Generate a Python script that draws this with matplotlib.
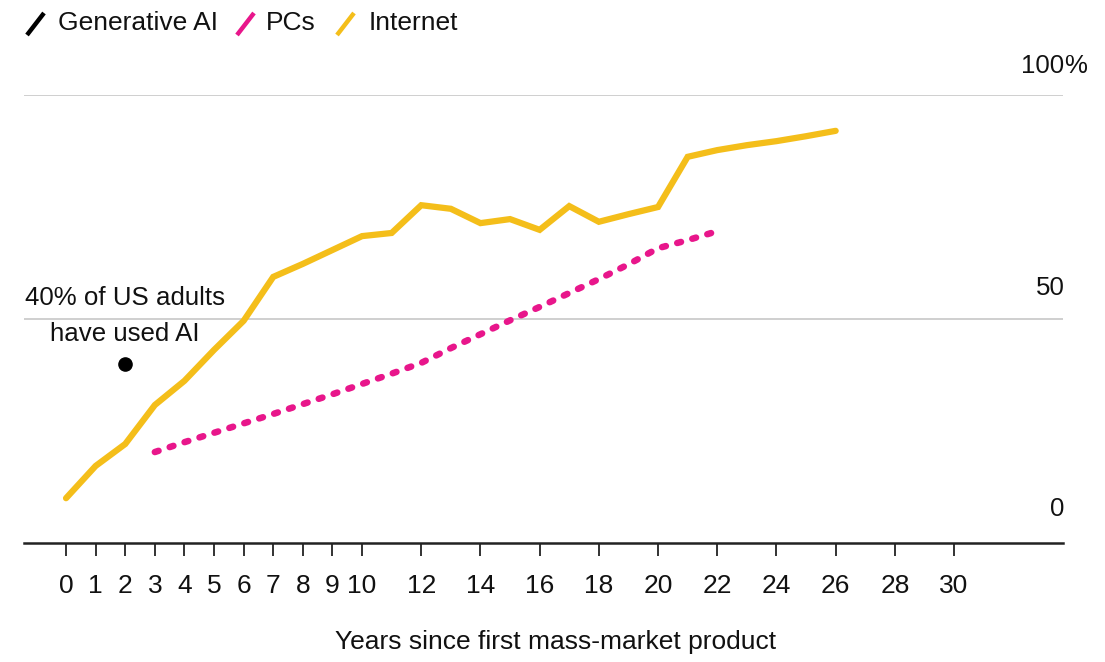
import matplotlib
matplotlib.use("Agg")
import matplotlib.pyplot as plt
from matplotlib.lines import Line2D

plt.rcParams['font.family'] = ['Liberation Sans', 'DejaVu Sans']

# Share of US adults using each technology, by years since first mass-market product
internet_years = list(range(0, 27))
internet_share = [10.0, 17.2, 22.1, 30.8, 36.2, 43.1, 49.6, 59.4, 62.3, 65.4, 68.5,
                  69.2, 75.4, 74.6, 71.4, 72.3, 69.9, 75.2, 71.7, 73.4, 75.0,
                  86.2, 87.7, 88.8, 89.7, 90.8, 92.0]

pc_years = list(range(3, 23))
pc_share = [20.3, 22.5, 24.6, 26.7, 28.8, 31.0, 33.2, 35.5, 37.8, 40.2,
            43.5, 46.6, 49.7, 52.7, 55.8, 58.9, 62.2, 65.8, 67.6, 69.6]

ai_year = [2]
ai_share = [40]

x_ticks = list(range(0, 11)) + list(range(12, 31, 2))
y_levels = [0, 50, 100]
y_numbers = ["0", "50", "100"]

legend_names = ["Generative AI", "PCs", "Internet"]
colors = ["#000000", "#E8168B", "#F4BE1A"]

W, H = 1105, 662
fig = plt.figure(figsize=(W / 100, H / 100), dpi=100)
ax = fig.add_axes([24 / W, 119 / H, (1063 - 24) / W, (543 - 95) / H])

ax.set_xlim(-1.42, 33.68)
ax.set_ylim(0, 100)

for g in y_levels[1:]:
    ax.axhline(g, color="#cfcfcf", lw=1.4, zorder=0)

ax.plot(internet_years, internet_share, color=colors[2], lw=4.5,
        solid_joinstyle="miter", solid_capstyle="round", zorder=3)
ax.plot(pc_years, pc_share, color=colors[1], lw=4.7, dashes=(0.6, 1.8),
        dash_capstyle="round", zorder=3)
ax.plot(ai_year, ai_share, "o", color=colors[0], ms=9.5, zorder=4)

ax.text(ai_year[0], 50.7, "40% of US adults\nhave used AI", ha="center", va="center",
        fontsize=18.6, linespacing=1.6, color="#111111")

# right-hand value labels, the percent sign hangs past the axis end
ytrans = ax.get_yaxis_transform()
label_offsets = [7.6, 7.0, 6.5]
for g, lab, off in zip(y_levels, y_numbers, label_offsets):
    ax.text(1.0015, g + off, lab, transform=ytrans, ha="right", va="center",
            fontsize=18.6, color="#111111")
ax.text(1.0015, y_levels[-1] + label_offsets[-1], "%", transform=ytrans,
        ha="left", va="center", fontsize=18.6, color="#111111")

for s in ["top", "right", "left"]:
    ax.spines[s].set_visible(False)
ax.spines["bottom"].set_linewidth(1.8)
ax.spines["bottom"].set_color("#222222")

ax.set_xticks(x_ticks)
ax.set_xticklabels([str(t) for t in x_ticks], fontsize=19, color="#111111")
ax.tick_params(axis="x", length=9, width=1.3, pad=13, color="#222222")
ax.set_yticks([])

fig.text(556 / W, 1 - 642 / H, "Years since first mass-market product",
         ha="center", va="center", fontsize=19, color="#111111")

# legend with slanted swatches
icon_x = [27, 237, 337]
text_x = [58, 266, 369]
for ix, tx, name, c in zip(icon_x, text_x, legend_names, colors):
    fig.add_artist(Line2D([ix / W, (ix + 17) / W], [1 - 35 / H, 1 - 13 / H],
                          color=c, lw=3.2, solid_capstyle="butt"))
    fig.text(tx / W, 1 - 23 / H, name, ha="left", va="center", fontsize=19,
             color="#111111")

fig.savefig("out.png", dpi=100)
